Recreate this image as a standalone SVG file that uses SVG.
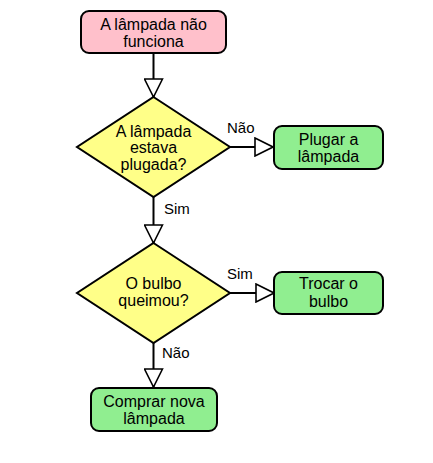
<svg xmlns="http://www.w3.org/2000/svg" width="433" height="463" viewBox="0 0 433 463">
<style>
.t{font-family:"Liberation Sans",Arial,sans-serif;font-size:16px;fill:#000;text-anchor:middle}
.l{font-family:"Liberation Sans",Arial,sans-serif;font-size:15px;fill:#000}
.box{stroke:#000;stroke-width:2}
.c{stroke:#000;stroke-width:2;fill:none}
</style>
<defs>
<marker id="ah" markerUnits="userSpaceOnUse" markerWidth="20" markerHeight="20" viewBox="-1 -1 20 20" refX="18" refY="9" orient="auto">
<path d="M0,0 L18,9 L0,18 Z" fill="#fff" stroke="#000" stroke-width="1.6" stroke-linejoin="miter"/>
</marker>
</defs>
<rect width="433" height="463" fill="#fff"/>
<g id="connectors">
<line class="c" x1="153.5" y1="53" x2="153.5" y2="97" marker-end="url(#ah)"/>
<line class="c" x1="230" y1="147" x2="273" y2="147" marker-end="url(#ah)"/>
<line class="c" x1="153.5" y1="197" x2="153.5" y2="243" marker-end="url(#ah)"/>
<line class="c" x1="230" y1="293" x2="274" y2="293" marker-end="url(#ah)"/>
<line class="c" x1="153.5" y1="343" x2="153.5" y2="387" marker-end="url(#ah)"/>
<text class="l" x="227" y="132.5">Não</text>
<text class="l" x="164" y="213.5">Sim</text>
<text class="l" x="227" y="278.5">Sim</text>
<text class="l" x="162" y="357.5">Não</text>
</g>
<g id="start">
<rect class="box" x="81" y="11" width="145" height="42" rx="8" fill="#ffc0cb"/>
<text class="t" x="153.5" y="30">A lâmpada não</text>
<text class="t" x="153.5" y="47">funciona</text>
</g>
<g id="q1">
<polygon class="box" points="153.5,97 230,147 153.5,197 77,147" fill="#ffff88"/>
<text class="t" x="153.5" y="136.5">A lâmpada</text>
<text class="t" x="153.5" y="153">estava</text>
<text class="t" x="153.5" y="169.5">plugada?</text>
</g>
<g id="plug">
<rect class="box" x="274" y="126" width="109" height="43" rx="8" fill="#90ee90"/>
<text class="t" x="328.5" y="144.5">Plugar a</text>
<text class="t" x="328.5" y="161.5">lâmpada</text>
</g>
<g id="q2">
<polygon class="box" points="153.5,243 230,293 153.5,343 77,293" fill="#ffff88"/>
<text class="t" x="153.5" y="288.5">O bulbo</text>
<text class="t" x="153.5" y="306">queimou?</text>
</g>
<g id="trocar">
<rect class="box" x="274" y="272" width="109" height="42" rx="8" fill="#90ee90"/>
<text class="t" x="328.5" y="289">Trocar o</text>
<text class="t" x="328.5" y="306.5">bulbo</text>
</g>
<g id="comprar">
<rect class="box" x="91" y="388" width="126" height="43" rx="8" fill="#90ee90"/>
<text class="t" x="154" y="406.5">Comprar nova</text>
<text class="t" x="154" y="423.5">lâmpada</text>
</g>
</svg>
